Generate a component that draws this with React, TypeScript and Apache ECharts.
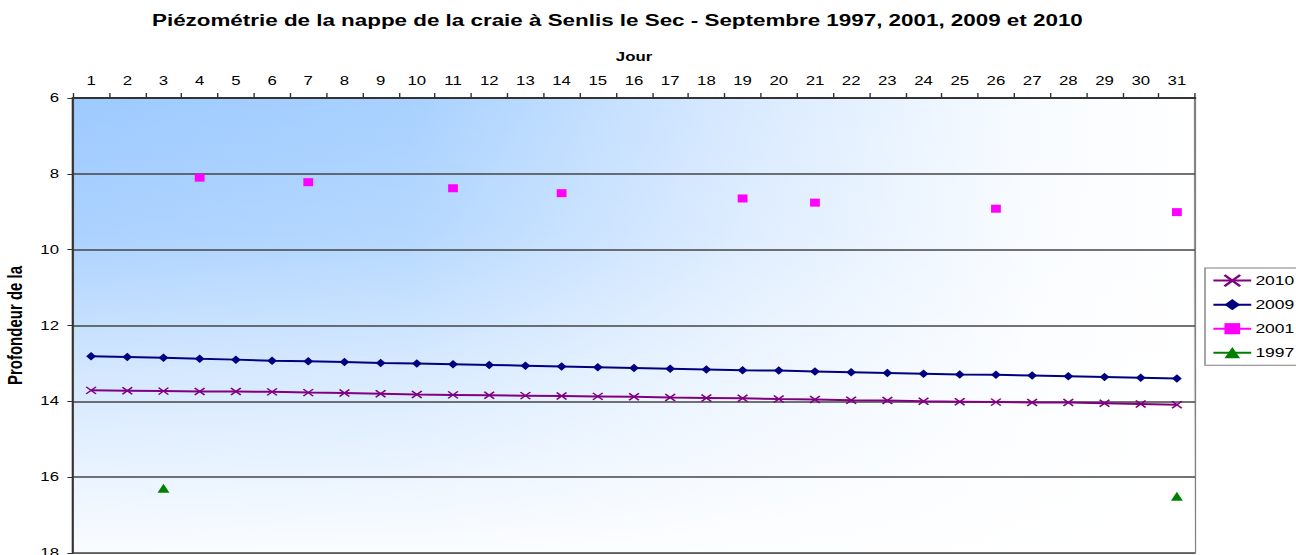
import React, { useEffect, useRef } from "react";
import * as echarts from "echarts";

const days = Array.from({ length: 31 }, (_, i) => String(i + 1));
const yTicks = [6, 8, 10, 12, 14, 16, 18];

const s2010 = [
  13.71, 13.72, 13.73, 13.74, 13.74, 13.75, 13.77, 13.78, 13.8, 13.82, 13.83,
  13.84, 13.85, 13.86, 13.87, 13.88, 13.9, 13.91, 13.92, 13.94, 13.95,
  13.97, 13.98, 14.0, 14.01, 14.02, 14.03, 14.03, 14.05, 14.07, 14.09,
];
const s2009 = [
  12.81, 12.83, 12.85, 12.88, 12.9, 12.93, 12.94, 12.96, 12.99, 13.0, 13.02,
  13.04, 13.06, 13.08, 13.1, 13.12, 13.14, 13.16, 13.18, 13.19, 13.21,
  13.23, 13.25, 13.27, 13.29, 13.3, 13.32, 13.34, 13.36, 13.38, 13.4,
];
// 2001: readings on days 4, 7, 11, 14, 19, 21, 26, 31
const s2001: (number | null)[] = [
  null, null, null, 8.1, null, null, 8.22, null, null, null, 8.38,
  null, null, 8.51, null, null, null, null, 8.65, null, 8.76,
  null, null, null, null, 8.92, null, null, null, null, 9.01,
];
// 1997: readings on days 3 and 31
const s1997: (number | null)[] = [
  null, null, 16.29, null, null, null, null, null, null, null, null,
  null, null, null, null, null, null, null, null, null, null,
  null, null, null, null, null, null, null, null, null, 16.5,
];

const FONT = "Arial, 'Liberation Sans', sans-serif";
// the reference picture is a horizontally stretched chart
const STRETCH = 1.4;
const CW = 926; // chart width before horizontal stretch
const PLOT_L = 73 / STRETCH;
const PLOT_R = 1195 / STRETCH;

export default function App() {
  const ref = useRef<HTMLDivElement>(null);
  useEffect(() => {
    document.body.style.margin = "0";
    if (!ref.current) return;
    const chart = echarts.init(ref.current, undefined, { renderer: "svg" });
    const crossPath = "path://M0,0L10,10M10,0L0,10";
    chart.setOption({
      animation: false,
      textStyle: { fontFamily: FONT },
      title: {
        text:
          "Piézométrie de la nappe de la craie à Senlis le Sec - Septembre 1997, 2001, 2009 et 2010",
        left: 152 / STRETCH,
        top: 12,
        padding: 0,
        textStyle: { fontSize: 16, fontWeight: "bold", color: "#000", fontFamily: FONT },
      },
      legend: {
        orient: "vertical",
        left: 1205 / STRETCH,
        top: 268,
        padding: [6, 6, 6, 5],
        itemGap: 11,
        itemWidth: 27,
        itemHeight: 14,
        borderColor: "#808080",
        borderWidth: 1,
        backgroundColor: "#fff",
        textStyle: { fontSize: 12.5, color: "#000", fontFamily: FONT, padding: [0, 0, 0, -2] },
        data: ["2010", "2009", "2001", "1997"],
      },
      graphic: [
        {
          type: "rect",
          z: 1,
          silent: true,
          shape: { x: PLOT_L, y: 98, width: PLOT_R - PLOT_L, height: 455 },
          style: {
            fill: new echarts.graphic.LinearGradient(0, 0, 0, 1, [
              { offset: 0, color: "rgba(255,255,255,0)" },
              { offset: 0.3, color: "rgba(255,255,255,0.15)" },
              { offset: 0.6, color: "rgba(255,255,255,0.55)" },
              { offset: 1, color: "rgba(255,255,255,0.95)" },
            ]),
          },
        },
      ],
      grid: {
        left: PLOT_L,
        right: CW - PLOT_R,
        top: 98,
        bottom: 2,
        outerBoundsMode: "none",
        containLabel: false,
        show: true,
        borderColor: "#808080",
        borderWidth: 1.6,
        backgroundColor: new echarts.graphic.LinearGradient(0, 0, 1, 0, [
          { offset: 0, color: "#9dcaff" },
          { offset: 0.3, color: "#a8d1ff" },
          { offset: 0.6, color: "#d9eaff" },
          { offset: 0.85, color: "#f7fbff" },
          { offset: 1, color: "#ffffff" },
        ]),
      },
      xAxis: {
        type: "category",
        position: "top",
        data: days,
        boundaryGap: true,
        name: "Jour",
        nameLocation: "middle",
        nameGap: 35,
        nameTextStyle: { fontSize: 12, fontWeight: "bold", color: "#000", fontFamily: FONT },
        z: 3,
        axisLine: { lineStyle: { color: "#333", width: 2 } },
        axisTick: { show: true, alignWithLabel: false, inside: false, length: 5, lineStyle: { color: "#333" } },
        axisLabel: { interval: 0, fontSize: 12, color: "#000", margin: 11, fontFamily: FONT },
        splitLine: { show: false },
      },
      yAxis: {
        type: "value",
        inverse: true,
        min: 6,
        max: 18,
        interval: 2,
        name: "Profondeur de la",
        nameLocation: "middle",
        nameRotate: 90,
        nameGap: 29,
        nameTextStyle: { fontSize: 15, fontWeight: "bold", color: "#000", fontFamily: FONT },
        z: 3,
        axisLine: { show: true, lineStyle: { color: "#333", width: 1.5 } },
        axisTick: { show: true, length: 4, lineStyle: { color: "#333" } },
        axisLabel: {
          fontSize: 12,
          color: "#000",
          margin: 10,
          fontFamily: FONT,
          formatter: (v: number) => (yTicks.indexOf(v) >= 0 ? String(v) : ""),
        },
        splitLine: { show: true, lineStyle: { color: "#444", width: 1.5 } },
      },
      series: [
        {
          name: "2010",
          type: "line",
          data: s2010,
          z: 4,
          symbol: crossPath,
          symbolSize: [7, 7],
          showAllSymbol: true,
          lineStyle: { color: "#800080", width: 2 },
          itemStyle: { color: "#800080", borderColor: "#800080", borderWidth: 1.3 },
        },
        {
          name: "2009",
          type: "line",
          data: s2009,
          z: 4,
          symbol: "diamond",
          symbolSize: [7, 8.5],
          showAllSymbol: true,
          lineStyle: { color: "#000080", width: 2 },
          itemStyle: { color: "#000080" },
        },
        {
          name: "2001",
          type: "line",
          data: s2001,
          z: 4,
          connectNulls: false,
          symbol: "rect",
          symbolSize: [7, 8],
          showAllSymbol: true,
          lineStyle: { color: "#ff00ff", width: 2 },
          itemStyle: { color: "#ff00ff" },
        },
        {
          name: "1997",
          type: "line",
          data: s1997,
          z: 4,
          connectNulls: false,
          symbol: "triangle",
          symbolSize: [8.5, 9],
          showAllSymbol: true,
          lineStyle: { color: "#008000", width: 2 },
          itemStyle: { color: "#008000" },
        },
      ],
    });
    return () => chart.dispose();
  }, []);
  return (
    <div
      ref={ref}
      style={{
        width: CW,
        height: 555,
        transform: `scaleX(${STRETCH})`,
        transformOrigin: "0 0",
      }}
    />
  );
}
